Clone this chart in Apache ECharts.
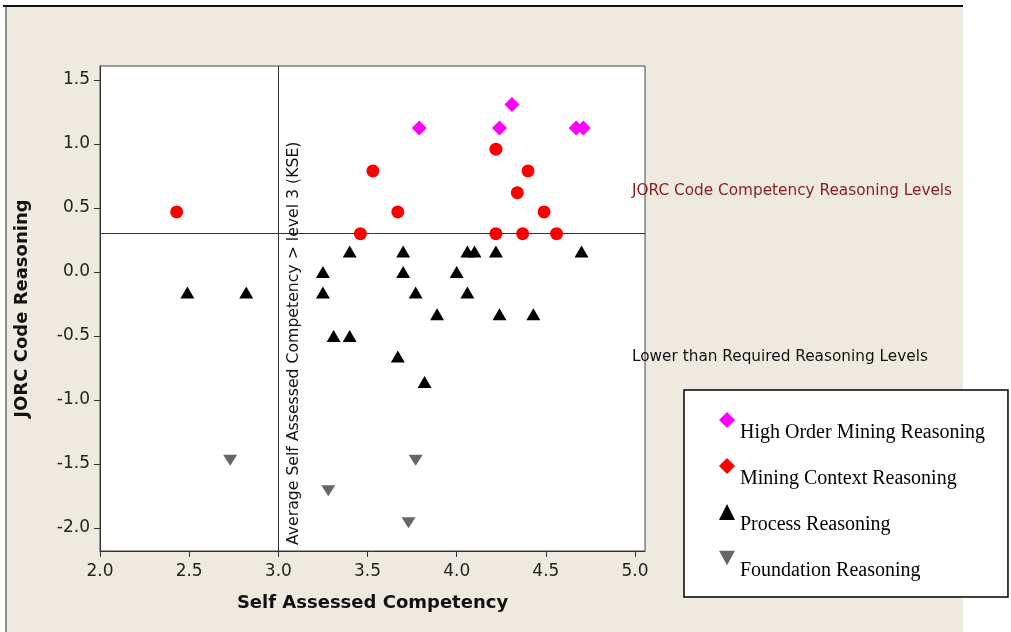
<!DOCTYPE html>
<html>
<head>
<meta charset="utf-8">
<script src="https://cdn.jsdelivr.net/npm/echarts@6/dist/echarts.min.js"></script>
<style>
  html, body { margin: 0; padding: 0; background: #fff; }
  #chart { width: 1011px; height: 632px; }
</style>
</head>
<body>
<div id="chart"></div>
<script>
// values: [self assessed competency, JORC code reasoning]
const highOrder = [[3.79, 1.125], [4.31, 1.31], [4.24, 1.125], [4.67, 1.125], [4.71, 1.125]];
const miningContext = [
    [2.43, 0.47], [3.53, 0.79], [3.46, 0.30], [3.67, 0.47], [4.22, 0.96], [4.40, 0.79],
    [4.34, 0.62], [4.49, 0.47], [4.22, 0.30], [4.37, 0.30], [4.56, 0.30]
];
const processR = [
    [3.40, 0.16], [3.70, 0.16], [4.06, 0.16], [4.10, 0.16], [4.22, 0.16], [4.70, 0.16],
    [3.25, 0.0], [3.70, 0.0], [4.00, 0.0],
    [2.49, -0.16], [2.82, -0.16], [3.25, -0.16], [3.77, -0.16], [4.06, -0.16],
    [3.89, -0.33], [4.24, -0.33], [4.43, -0.33],
    [3.31, -0.5], [3.40, -0.5],
    [3.67, -0.66], [3.82, -0.86]
];
const foundation = [[2.73, -1.47], [3.28, -1.71], [3.77, -1.47], [3.73, -1.96]];

const seriesNames = ['High Order Mining Reasoning', 'Mining Context Reasoning', 'Process Reasoning', 'Foundation Reasoning'];
const avgCompetency = 3.0;   // vertical reference line
const requiredLevel = 0.3;   // horizontal reference line

const downTri = 'path://M0,0L10,0L5,9Z';

var chart = echarts.init(document.getElementById('chart'), null, { renderer: 'canvas' });

var option = {
    backgroundColor: '#EEEAE0',
    animation: false,
    grid: {
        left: 100, top: 66, right: 366, bottom: 81,
        show: true, backgroundColor: '#fff', borderColor: '#444', borderWidth: 1
    },
    graphic: [
        // white margins round the beige panel
        { type: 'rect', z: -10, shape: { x: 0, y: 0, width: 1011, height: 5 }, style: { fill: '#fff' } },
        { type: 'rect', z: -10, shape: { x: 0, y: 0, width: 5, height: 632 }, style: { fill: '#fff' } },
        { type: 'rect', z: -10, shape: { x: 963, y: 0, width: 48, height: 632 }, style: { fill: '#fff' } },
        { type: 'line', z: -5, shape: { x1: 3, y1: 6, x2: 963, y2: 6 }, style: { stroke: '#111', lineWidth: 2 } },
        { type: 'line', z: -5, shape: { x1: 6, y1: 6, x2: 6, y2: 632 }, style: { stroke: '#333', lineWidth: 1 } },
        {
            type: 'text', z: 100, left: 632, top: 184,
            style: { text: 'JORC Code Competency Reasoning Levels', fill: '#8B1A1A', font: '15.3px "DejaVu Sans"' }
        },
        {
            type: 'text', z: 100, left: 632, top: 350,
            style: { text: 'Lower than Required Reasoning Levels', fill: '#111', font: '15.3px "DejaVu Sans"' }
        }
    ],
    legend: {
        orient: 'vertical', left: 684, top: 390, z: 20,
        padding: [7, 23, 16, 35], itemGap: 0, itemWidth: 16, itemHeight: 16,
        backgroundColor: '#fff', borderColor: '#000', borderWidth: 1.5,
        formatter: name => '{t|' + name + '}',
        textStyle: {
            rich: {
                t: { fontFamily: 'Liberation Serif', fontSize: 20, color: '#000', lineHeight: 22, padding: [26, 0, 0, 0] }
            }
        },
        data: [
            { name: seriesNames[0], icon: 'diamond' },
            { name: seriesNames[1], icon: 'diamond' },
            { name: seriesNames[2], icon: 'triangle' },
            { name: seriesNames[3], icon: downTri }
        ]
    },
    xAxis: {
        type: 'value', min: 2.0, max: 5.056, interval: 0.5,
        name: 'Self Assessed Competency', nameLocation: 'middle', nameGap: 43,
        nameTextStyle: { fontFamily: 'DejaVu Sans', fontSize: 18, fontWeight: 'bold', color: '#111' },
        axisLine: { onZero: false, lineStyle: { color: '#333' } },
        axisTick: { length: 6, lineStyle: { color: '#333' } },
        axisLabel: {
            fontFamily: 'DejaVu Sans', fontSize: 17, color: '#222', margin: 12,
            showMaxLabel: false, formatter: v => v.toFixed(1)
        },
        splitLine: { show: false }
    },
    yAxis: {
        type: 'value', min: -2.18, max: 1.61, splitNumber: 8,
        name: 'JORC Code Reasoning', nameLocation: 'middle', nameGap: 69,
        nameTextStyle: { fontFamily: 'DejaVu Sans', fontSize: 18, fontWeight: 'bold', color: '#111' },
        axisLine: { show: true, onZero: false, lineStyle: { color: '#333' } },
        axisTick: { show: true, length: 6, lineStyle: { color: '#333' } },
        axisLabel: {
            fontFamily: 'DejaVu Sans', fontSize: 17, color: '#222', margin: 10,
            showMinLabel: false, showMaxLabel: false, formatter: v => v.toFixed(1)
        },
        splitLine: { show: false }
    },
    series: [
        {
            name: seriesNames[0], type: 'scatter', data: highOrder,
            symbol: 'diamond', symbolSize: 15, itemStyle: { color: '#FF00FF', opacity: 1 },
            markLine: {
                silent: true, symbol: 'none',
                lineStyle: { color: '#333', width: 1, type: 'solid' },
                data: [
                    {
                        xAxis: avgCompetency,
                        label: {
                            show: true, position: 'insideStartBottom', distance: [6, 8],
                            formatter: 'Average Self Assessed Competency > level 3 (KSE)',
                            fontFamily: 'DejaVu Sans', fontSize: 15.7, color: '#111'
                        }
                    },
                    { yAxis: requiredLevel, label: { show: false } }
                ]
            }
        },
        {
            name: seriesNames[1], type: 'scatter', data: miningContext,
            symbol: 'circle', symbolSize: 13, itemStyle: { color: '#FF0000', opacity: 1 }
        },
        {
            name: seriesNames[2], type: 'scatter', data: processR,
            symbol: 'triangle', symbolSize: [14, 12], itemStyle: { color: '#000', opacity: 1 }
        },
        {
            name: seriesNames[3], type: 'scatter', data: foundation,
            symbol: downTri, symbolSize: [14, 11], itemStyle: { color: '#666', opacity: 1 }
        }
    ]
};

chart.setOption(option);
</script>
</body>
</html>
